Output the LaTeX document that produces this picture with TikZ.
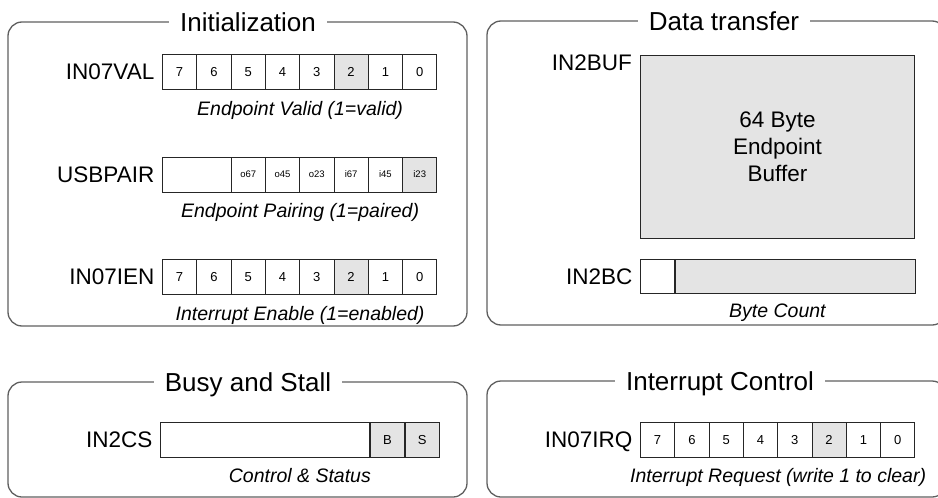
\documentclass[tikz,border=0pt]{standalone}
\usepackage{fontspec}
\setmainfont{Liberation Sans}
\usetikzlibrary{positioning}
\usetikzlibrary{calc}
\definecolor{bitgray}{RGB}{228,228,228}
\definecolor{framegray}{RGB}{95,95,95}

\tikzset{
    panelbox/.style={draw=framegray, line width=1.3pt, rounded corners=14pt},
    paneltitle/.style={fill=white, inner xsep=11pt, inner ysep=2pt,
        text depth=0pt, font=\fontsize{26}{26}\selectfont},
    reglabel/.style={inner sep=0pt, text depth=0pt,
        font=\fontsize{22.5}{22.5}\selectfont},
    bitcell/.style={draw=black!85, line width=0.9pt, fill=white,
        minimum width=34.3pt, minimum height=35pt, inner sep=0pt,
        anchor=north west, font=\fontsize{13}{13}\selectfont},
    setbit/.style={fill=bitgray},
    regnote/.style={inner sep=0pt, anchor=base,
        font=\fontsize{19.5}{19.5}\selectfont\itshape}
}

\begin{document}
\begin{tikzpicture}[x=1pt, y=-1pt]
    \useasboundingbox (0,0) rectangle (938,498);

    % panels
    \draw[panelbox] (8,22) rectangle (467,326);
    \draw[panelbox] (487,21) rectangle (946,325);
    \draw[panelbox] (8,382) rectangle (467,497);
    \draw[panelbox] (487,381) rectangle (946,497);
    \node[paneltitle] (tinit) at (248,22) {Initialization};
    \node[paneltitle] (tdata) at (724,21) {Data transfer};
    \node[paneltitle] (tbusy) at (248,382) {Busy and Stall};
    \node[paneltitle] (tirq) at (720,381) {Interrupt Control};

    % 8 bit registers, bit 2 set
    \foreach \r/\x/\y in {val/162/54, ien/162/259, irq/640/422}
        \foreach \b/\f in {7/white,6/white,5/white,4/white,3/white,
                2/bitgray,1/white,0/white}
            \node[bitcell, fill=\f] (\r\b) at ({\x+(7-\b)*34.3},\y) {\b};

    \node[reglabel, left=7.5pt of val7] (lval) {IN07VAL};
    \node[regnote] (nval) at ($(val4.south east)+(0,25.5)$)
        {Endpoint Valid (1=valid)};

    % USBPAIR
    \node[bitcell, minimum width=68.6pt] (pairx) at (162,156.5) {};
    \foreach \n/\f [count=\k] in {o67/white,o45/white,o23/white,
            i67/white,i45/white,i23/bitgray}
        \node[bitcell, fill=\f, font=\fontsize{9.5}{9.5}\selectfont]
            (p\n) at ({196.3+\k*34.3},156.5) {\n};
    \node[reglabel, left=7.5pt of pairx] (lpair) {USBPAIR};
    \node[regnote] (npair) at ($(po45.south east)+(0,25.5)$)
        {Endpoint Pairing (1=paired)};

    \node[reglabel, left=7.5pt of ien7] (lien) {IN07IEN};
    \node[regnote] (nien) at ($(ien4.south east)+(0,25.5)$)
        {Interrupt Enable (1=enabled)};

    % data transfer
    \node[bitcell, setbit, minimum width=274pt, minimum height=183pt,
        align=center, font=\fontsize{22.5}{27}\selectfont]
        (buf) at (640,55) {64 Byte\\Endpoint\\Buffer};
    \node[reglabel, anchor=north east] (lbuf)
        at ([xshift=-8pt]buf.north west) {IN2BUF};
    \node[bitcell, minimum width=34pt, minimum height=34pt] (bclo) at (640,259) {};
    \node[bitcell, setbit, minimum width=240pt, minimum height=34pt]
        (bchi) at (bclo.north east) {};
    \node[reglabel, left=7.5pt of bclo] (lbc) {IN2BC};
    \node[regnote] (nbc) at ($(buf.south)+(0,79)$) {Byte Count};

    % busy and stall
    \node[bitcell, minimum width=209pt] (cs) at (160,422) {};
    \node[bitcell, setbit, minimum width=34pt] (csb) at (cs.north east) {B};
    \node[bitcell, setbit, minimum width=34pt] (css) at (csb.north east) {S};
    \node[reglabel, left=7.5pt of cs] (lcs) {IN2CS};
    \node[regnote] (ncs) at ($(cs.south west)!.5!(css.south east)+(0,25)$)
        {Control \& Status};

    % interrupt control
    \node[reglabel, left=7.5pt of irq7] (lirq) {IN07IRQ};
    \node[regnote] (nirq) at ($(irq4.south east)+(0,25)$)
        {Interrupt Request (write 1 to clear)};
\end{tikzpicture}
\end{document}
